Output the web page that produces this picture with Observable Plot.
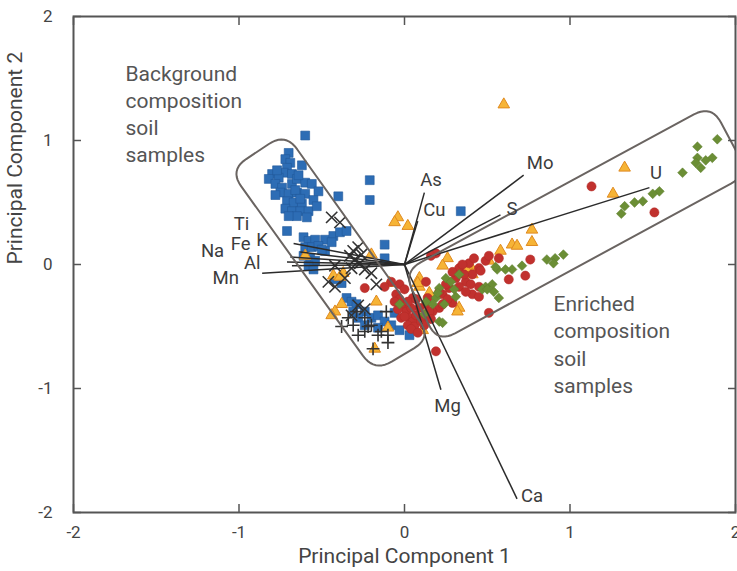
<!DOCTYPE html>
<html>
<head>
<meta charset="utf-8">
<script src="https://cdn.jsdelivr.net/npm/d3@7"></script>
<script src="https://cdn.jsdelivr.net/npm/@observablehq/plot@0.6"></script>
<style>
  html, body { margin: 0; padding: 0; background: #fff; }
  #chart svg { display: block; }
</style>
</head>
<body>
<div id="chart"></div>
<script>
// ---------- data ----------
const axisTicks = [-2, -1, 0, 1, 2];

const backgroundSamples = [ // blue squares
  [-0.60,1.04],[-0.70,0.90],[-0.72,0.85],[-0.69,0.82],[-0.71,0.78],[-0.73,0.74],[-0.62,0.80],
  [-0.80,0.73],[-0.82,0.69],[-0.76,0.70],[-0.68,0.73],[-0.78,0.65],[-0.74,0.62],[-0.68,0.65],
  [-0.65,0.69],[-0.60,0.66],[-0.56,0.65],[-0.52,0.59],[-0.75,0.58],[-0.70,0.57],[-0.65,0.58],
  [-0.60,0.57],[-0.71,0.51],[-0.67,0.50],[-0.62,0.49],[-0.72,0.45],[-0.68,0.43],[-0.63,0.43],
  [-0.58,0.43],[-0.65,0.39],[-0.59,0.38],[-0.70,0.39],[-0.40,0.55],[-0.21,0.68],[-0.21,0.52],
  [-0.71,0.27],[-0.61,0.22],[-0.58,0.19],[-0.54,0.20],[-0.48,0.20],[-0.43,0.23],[-0.39,0.26],
  [-0.35,0.27],[-0.60,0.14],[-0.56,0.14],[-0.52,0.15],[-0.44,0.18],[-0.61,0.07],[-0.57,0.05],
  [-0.54,0.03],[-0.58,-0.01],[-0.55,-0.04],[-0.48,0.11],[-0.12,0.16],[-0.12,0.05],[-0.38,-0.15],
  [-0.42,-0.12],[-0.35,-0.27],[-0.32,-0.30],[-0.29,-0.32],[-0.24,-0.38],[-0.20,-0.43],[-0.16,-0.41],
  [-0.12,-0.46],[-0.08,-0.49],[-0.03,-0.53],[0.03,-0.57],[-0.28,-0.43],[-0.24,-0.49],[-0.16,-0.51],
  [-0.06,-0.39],[-0.31,-0.38],[0.34,0.43],[-0.66,0.60],[-0.63,0.53],[-0.77,0.76],[-0.50,0.12],
  [-0.55,0.52],[-0.53,0.47],[-0.78,0.56],[-0.64,0.72]
];

const transitionSamples = [ // orange triangles
  [0.60,1.29],[-0.04,0.38],[-0.06,0.34],[0.02,0.31],[0.77,0.28],[0.65,0.16],[0.68,0.15],
  [0.77,0.18],[0.58,0.11],[0.26,0.05],[0.23,-0.01],[0.41,-0.04],[1.33,0.78],[1.26,0.57],
  [0.09,-0.11],[0.09,-0.18],[0.37,-0.03],[0.33,-0.35],[0.15,-0.23],[0.51,0.03],[-0.43,-0.09],
  [-0.37,-0.07],[-0.42,-0.38],[-0.38,-0.32],[-0.44,-0.41],[-0.18,-0.68],[-0.60,0.07],[-0.10,-0.51],
  [0.11,-0.53],[-0.17,-0.30],[-0.20,0.08],[0.32,-0.38],[0.41,-0.08],[-0.09,-0.15],[-0.39,-0.10],
  [0.08,-0.15]
];

const enrichedSamples = [ // red circles
  [1.13,0.63],[1.51,0.42],[0.19,0.09],[0.16,0.07],[0.57,0.05],[0.76,0.04],[0.73,-0.09],[0.63,-0.12],
  [0.51,-0.39],[0.49,0.03],[0.45,-0.03],[0.41,-0.08],[0.37,-0.14],[0.33,-0.18],[0.31,-0.11],
  [0.27,-0.19],[0.23,-0.24],[0.21,-0.35],[0.17,-0.38],[0.13,-0.32],[0.41,-0.24],[0.45,-0.26],
  [0.19,-0.70],[-0.24,-0.19],[-0.03,-0.16],[-0.05,-0.24],[-0.01,-0.32],[0.01,-0.38],[0.03,-0.43],
  [0.05,-0.46],[0.07,-0.41],[0.09,-0.35],[0.02,-0.49],[-0.02,-0.43],[0.11,-0.43],[0.15,-0.38],
  [0.23,-0.32],[0.29,-0.31],[0.37,-0.22],[0.45,-0.18],[0.51,0.07],[0.33,-0.03],[0.39,0.01],
  [0.21,-0.22],[0.05,-0.27],[-0.08,-0.14],[-0.12,-0.18],[0.13,-0.14],[-0.03,-0.28],[0.00,-0.20],
  [0.06,-0.50],[0.10,-0.46],[0.04,-0.35],[0.46,-0.05],[0.40,-0.16],[0.26,-0.28],
  [-0.04,-0.36],[0.00,-0.42],[0.04,-0.52],[0.08,-0.55],[0.12,-0.49],[-0.06,-0.30],[0.02,-0.30],
  [0.07,-0.28],[0.16,-0.44],[0.14,-0.27],[0.42,0.05],[0.35,0.00],[0.29,-0.06],[0.25,-0.16],[0.36,-0.08]
];

const uraniumSamples = [ // green diamonds
  [1.89,1.01],[1.77,0.95],[1.86,0.86],[1.82,0.84],[1.77,0.86],[1.76,0.82],[1.79,0.78],[1.68,0.74],
  [1.54,0.59],[1.50,0.57],[1.44,0.51],[1.39,0.50],[1.33,0.47],[1.31,0.41],[0.96,0.08],[0.91,0.05],
  [0.86,0.04],[0.90,0.01],[0.71,-0.01],[0.65,-0.04],[0.61,-0.04],[0.56,-0.04],[0.53,-0.16],
  [0.49,-0.18],[0.57,-0.27],[0.47,-0.20],[0.25,-0.11],[0.21,-0.19],[0.31,-0.26],[0.33,-0.08],
  [0.19,-0.27],[0.21,-0.46],[0.17,-0.32],[-0.03,-0.32],[0.13,-0.30],[0.50,-0.20],[0.54,-0.22],
  [0.30,-0.20],[0.24,-0.32],[0.12,-0.40],[0.55,-0.02],[0.20,-0.23],[0.23,-0.47],[0.28,-0.14]
];

const crossSamples = [ // dark x
  [-0.44,0.38],[-0.39,0.34],[-0.31,0.11],[-0.28,0.14],[-0.26,0.08],[-0.30,0.04],[-0.27,0.01],
  [-0.32,-0.03],[-0.24,-0.04],[-0.20,-0.07],[-0.42,-0.01],[-0.46,-0.14],[-0.42,-0.18],[-0.17,-0.16],
  [-0.36,-0.11],[-0.33,0.07],[-0.28,-0.33],[-0.24,-0.36],[-0.32,-0.41]
];

const plusSamples = [ // dark +
  [-0.38,-0.50],[-0.34,-0.43],[-0.31,-0.49],[-0.28,-0.57],[-0.24,-0.54],[-0.20,-0.49],[-0.16,-0.57],
  [-0.14,-0.54],[-0.10,-0.57],[-0.11,-0.38],[-0.10,-0.63],[-0.19,-0.68],[-0.24,-0.43],[-0.22,-0.50],
  [-0.29,-0.38]
];

const loadingNames = ["Ti","K","Fe","Na","Al","Mn","As","Cu","Mo","S","U","Mg","Ca"];
const loadingX = [-0.67,-0.63,-0.69,-0.71,-0.68,-0.86,0.12,0.08,0.72,0.58,1.48,0.22,0.68];
const loadingY = [0.17,0.10,0.06,0.02,-0.01,-0.07,0.58,0.35,0.72,0.40,0.62,-1.01,-1.89];
const labelX = [-0.985,-0.86,-0.99,-1.16,-0.92,-1.08,0.16,0.18,0.82,0.65,1.52,0.26,0.77];
const labelY = [0.33,0.20,0.165,0.11,0.01,-0.11,0.68,0.44,0.82,0.45,0.74,-1.14,-1.87];

const groupBoxes = [
  [[-0.719,1.061],[0.163,-0.591],[-0.181,-0.866],[-1.057,0.761]],
  [[-0.006,-0.057],[1.855,1.287],[2.079,0.729],[0.199,-0.632]]
];
const groupNames = ["Background\ncomposition\nsoil\nsamples","Enriched\ncomposition\nsoil\nsamples"];
const groupNameX = [-1.686, 0.90];
const groupNameY = [1.64, -0.22];

// ---------- layout ----------
const W = 737, H = 571;
const mL = 73, mR = 2, mT = 16, mB = 59;
const kx = (W - mL - mR) / 4, ky = (H - mT - mB) / 4;

function roundedOutline(corners, rPx) {
  const P = corners.map(([x, y]) => [x * kx, -y * ky]);
  const out = [];
  const n = P.length;
  for (let i = 0; i < n; i++) {
    const c = P[i], p = P[(i + n - 1) % n], q = P[(i + 1) % n];
    const up = [p[0] - c[0], p[1] - c[1]], uq = [q[0] - c[0], q[1] - c[1]];
    const lp = Math.hypot(...up), lq = Math.hypot(...uq);
    const a = [c[0] + up[0] / lp * rPx, c[1] + up[1] / lp * rPx];
    const b = [c[0] + uq[0] / lq * rPx, c[1] + uq[1] / lq * rPx];
    for (let t = 0; t <= 1.0001; t += 0.1) {
      const x = (1 - t) * (1 - t) * a[0] + 2 * (1 - t) * t * c[0] + t * t * b[0];
      const y = (1 - t) * (1 - t) * a[1] + 2 * (1 - t) * t * c[1] + t * t * b[1];
      out.push([x / kx, -y / ky]);
    }
  }
  out.push(out[0]);
  return out;
}
const boxLines = groupBoxes.flatMap((b, i) => roundedOutline(b, 20).map(([x, y]) => ({x, y, box: i})));

const loadings = loadingNames.map((name, i) => ({name, x: loadingX[i], y: loadingY[i], lx: labelX[i], ly: labelY[i]}));
const groupText = groupNames.map((t, i) => ({t, x: groupNameX[i], y: groupNameY[i]}));

const font = "Roboto, 'Liberation Sans', sans-serif";
const ink = "#444";
const fmt = d => String(d);

const chart = Plot.plot({
  width: W, height: H,
  marginLeft: mL, marginRight: mR, marginTop: mT, marginBottom: mB,
  x: {domain: [-2, 2]},
  y: {domain: [-2, 2]},
  style: {fontFamily: font, fontSize: "18px", color: ink, background: "#fff", overflow: "visible"},
  marks: [
    Plot.dot(backgroundSamples, {x: d => d[0], y: d => d[1], symbol: "square", r: 5, fill: "#2d6db5", stroke: "#21599a", strokeWidth: 0.6}),
    Plot.dot(transitionSamples, {x: d => d[0], y: d => d[1], symbol: "triangle", r: 4.3, fill: "#f6b436", stroke: "#e08a1f", strokeWidth: 1}),
    Plot.dot(enrichedSamples, {x: d => d[0], y: d => d[1], symbol: "circle", r: 4.6, fill: "#c1312e", stroke: "#b02a27", strokeWidth: 0.5}),
    Plot.dot(uraniumSamples, {x: d => d[0], y: d => d[1], symbol: "diamond2", r: 4.4, fill: "#6b8e35", stroke: "#5d7d2c", strokeWidth: 0.5}),
    Plot.dot(crossSamples, {x: d => d[0], y: d => d[1], symbol: "times", r: 5.2, stroke: "#333", strokeWidth: 1.6}),
    Plot.dot(plusSamples, {x: d => d[0], y: d => d[1], symbol: "plus", r: 4.2, stroke: "#333", strokeWidth: 1.6}),
    Plot.link(loadings, {x1: 0, y1: 0, x2: "x", y2: "y", stroke: "#2b2b2b", strokeWidth: 1.5}),
    Plot.line(boxLines, {x: "x", y: "y", z: "box", stroke: "#6a6461", strokeWidth: 2, clip: true}),
    Plot.text(loadings, {x: "lx", y: "ly", text: "name", fontSize: 18.5, fill: "#3c3c3c"}),
    Plot.text(groupText, {x: "x", y: "y", text: "t", textAnchor: "start", lineAnchor: "top", lineHeight: 1.3, fontSize: 21, fill: "#555"}),
    Plot.frame({stroke: "#555", strokeWidth: 2}),
    Plot.axisX({ticks: axisTicks, tickFormat: fmt, tickSize: 0, tickPadding: 13, fontSize: 17, label: null}),
    Plot.axisX({ticks: axisTicks, tickSize: -8, tickFormat: () => "", label: null, stroke: "#555", strokeWidth: 1.5}),
    Plot.axisX({ticks: axisTicks, anchor: "top", tickSize: -8, tickFormat: () => "", label: null, stroke: "#555", strokeWidth: 1.5}),
    Plot.axisY({ticks: axisTicks, tickFormat: fmt, tickSize: 0, tickPadding: 21, fontSize: 17, label: null}),
    Plot.axisY({ticks: axisTicks, tickSize: -8, tickFormat: () => "", label: null, stroke: "#555", strokeWidth: 1.5}),
    Plot.axisY({ticks: axisTicks, anchor: "right", tickSize: -8, tickFormat: () => "", label: null, stroke: "#555", strokeWidth: 1.5}),
    Plot.text(["Principal Component 1"], {frameAnchor: "bottom", dy: 50, fontSize: 21, fill: ink}),
    Plot.text(["Principal Component 2"], {frameAnchor: "left", rotate: -90, dx: -58, fontSize: 21, fill: ink})
  ]
});
document.getElementById("chart").appendChild(chart);
</script>
</body>
</html>
